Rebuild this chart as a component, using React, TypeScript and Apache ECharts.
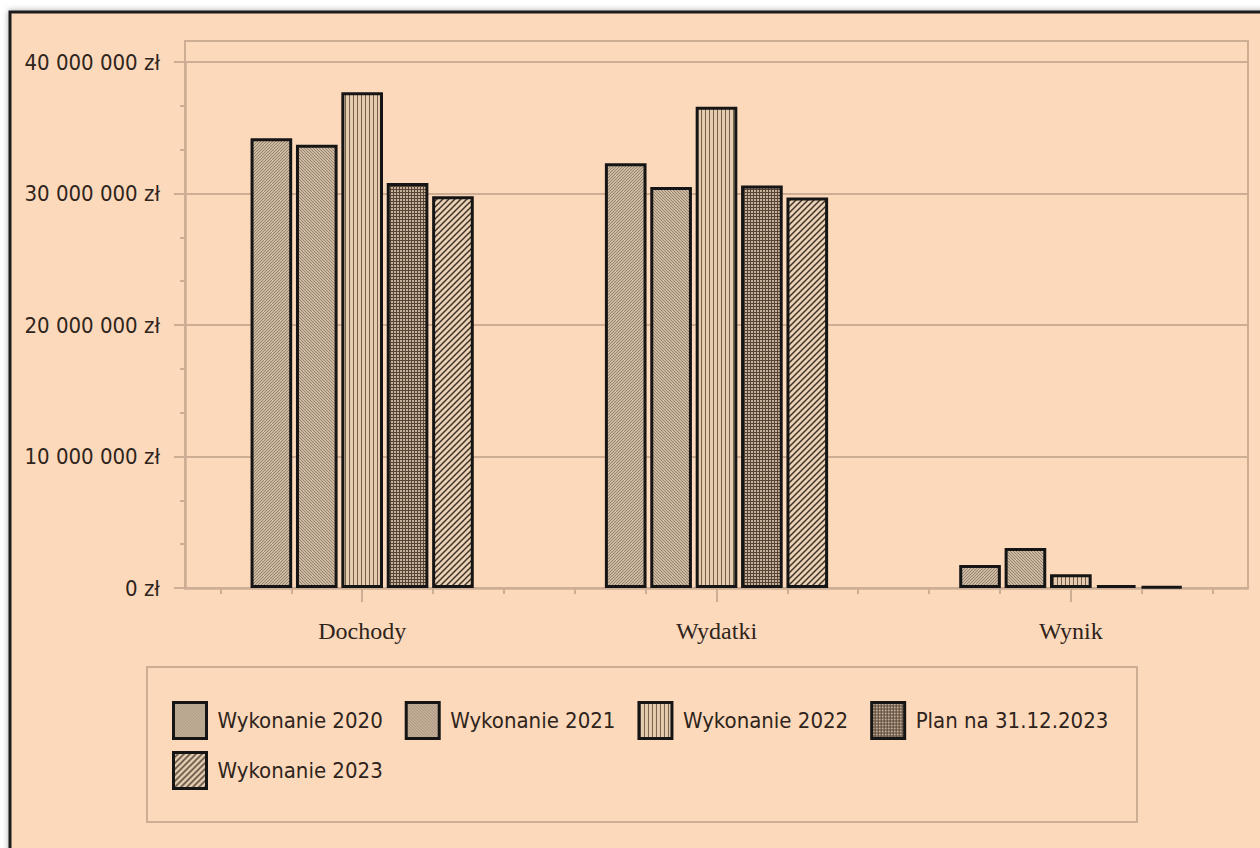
import React, { useEffect, useRef } from "react";
import * as echarts from "echarts";

const categories = ["Dochody", "Wydatki", "Wynik"];
const seriesNames = [
  "Wykonanie 2020",
  "Wykonanie 2021",
  "Wykonanie 2022",
  "Plan na 31.12.2023",
  "Wykonanie 2023",
];
const wykonanie2020 = [34200000, 32300000, 1750000];
const wykonanie2021 = [33700000, 30500000, 3050000];
const wykonanie2022 = [37700000, 36600000, 1050000];
const plan2023 = [30800000, 30600000, 220000];
const wykonanie2023 = [29800000, 29700000, 100000];
const yTickValues = [0, 10000000, 20000000, 30000000, 40000000];
const shortTickValues = [0.1, 0.3, 0.7, 0.9, 1.1, 1.3, 1.7, 1.9, 2.1, 2.3, 2.7, 2.9];
const longTickValues = [0.5, 1.5, 2.5];

const PEACH = "#FDD9BB";
const TAN = "#CDAE95";
const INK = "#2E241C";
const UI_FONT = "'DejaVu Sans Condensed', 'Liberation Sans Narrow', 'DejaVu Sans', sans-serif";

function makePattern(kind: string) {
  const c = document.createElement("canvas");
  let s = 3;
  if (kind === "vert") s = 4;
  if (kind === "wide") s = 6;
  c.width = s;
  c.height = s;
  const g = c.getContext("2d")!;
  const line = (x1: number, y1: number, x2: number, y2: number) => {
    g.beginPath();
    g.moveTo(x1, y1);
    g.lineTo(x2, y2);
    g.stroke();
  };
  if (kind === "fwd" || kind === "back") {
    g.fillStyle = "#CDB9A1";
    g.fillRect(0, 0, s, s);
    g.strokeStyle = "#917E6A";
    g.lineWidth = 0.9;
    if (kind === "fwd") {
      line(-1, s + 1, s + 1, -1);
      line(-1, 1, 1, -1);
      line(s - 1, s + 1, s + 1, s - 1);
    } else {
      line(-1, -1, s + 1, s + 1);
      line(s - 1, -1, s + 1, 1);
      line(-1, s - 1, 1, s + 1);
    }
  } else if (kind === "vert") {
    g.fillStyle = "#E6CCAF";
    g.fillRect(0, 0, s, s);
    g.fillStyle = "#75604D";
    g.fillRect(1, 0, 1, s);
  } else if (kind === "grid") {
    g.fillStyle = "#C7B098";
    g.fillRect(0, 0, s, s);
    g.fillStyle = "#564536";
    g.fillRect(0, 0, 1, s);
    g.fillRect(0, 0, s, 1);
  } else {
    g.fillStyle = "#EBD2B6";
    g.fillRect(0, 0, s, s);
    g.strokeStyle = "#3F3228";
    g.lineWidth = 1.5;
    line(-1, s + 1, s + 1, -1);
    line(-1, 1, 1, -1);
    line(s - 1, s + 1, s + 1, s - 1);
  }
  return { image: c, repeat: "repeat", imageWidth: s, imageHeight: s };
}

function fmtZl(v: number) {
  return String(Math.round(v)).replace(/\B(?=(\d{3})+(?!\d))/g, " ") + " zł";
}

export default function App() {
  const ref = useRef<HTMLDivElement>(null);
  useEffect(() => {
    if (!ref.current) return;
    const chart = echarts.init(ref.current, undefined, { renderer: "svg" });
    const patterns = [
      makePattern("fwd"),
      makePattern("back"),
      makePattern("vert"),
      makePattern("grid"),
      makePattern("wide"),
    ];
    const values = [wykonanie2020, wykonanie2021, wykonanie2022, plan2023, wykonanie2023];
    const legendCommon = {
      icon: "rect",
      itemWidth: 33,
      itemHeight: 36,
      itemGap: 22,
      padding: 0,
      orient: "horizontal",
      textStyle: {
        fontFamily: UI_FONT,
        fontSize: 22,
        color: INK,
        padding: [0, 0, 0, 6],
      },
      itemStyle: { borderColor: "#151515", borderWidth: 3 },
    };
    const option: any = {
      animation: false,
      backgroundColor: "transparent",
      grid: { left: 185, right: 12, top: 62, bottom: 260, containLabel: false },
      graphic: [
        {
          type: "rect",
          z: -100,
          silent: true,
          shape: { x: 10, y: 12, width: 1262, height: 846 },
          style: {
            fill: PEACH,
            stroke: "#1E1E1E",
            lineWidth: 3,
            shadowColor: "rgba(0,0,0,0.35)",
            shadowBlur: 6,
          },
        },
        {
          type: "rect",
          z: -50,
          silent: true,
          shape: { x: 185, y: 41, width: 1063, height: 547 },
          style: { fill: "none", stroke: TAN, lineWidth: 2 },
        },
        {
          type: "rect",
          z: -50,
          silent: true,
          shape: { x: 147, y: 667, width: 990, height: 155 },
          style: { fill: "none", stroke: TAN, lineWidth: 2 },
        },
      ],
      legend: [
        { ...legendCommon, data: seriesNames.slice(0, 4), left: 172, top: 701 },
        { ...legendCommon, data: seriesNames.slice(4), left: 172, top: 751 },
      ],
      xAxis: [
        {
          type: "category",
          data: categories,
          position: "bottom",
          axisLine: { show: true, lineStyle: { color: TAN, width: 2.5 } },
          axisTick: { show: false },
          axisLabel: {
            margin: 31,
            fontFamily: "'Liberation Serif', 'Times New Roman', serif",
            fontSize: 24,
            color: INK,
          },
          splitLine: { show: false },
        },
        {
          type: "value",
          min: 0,
          max: 3,
          position: "bottom",
          axisLine: { show: false },
          axisLabel: { show: false },
          splitLine: { show: false },
          axisTick: {
            show: true,
            length: 6,
            customValues: shortTickValues,
            lineStyle: { color: TAN, width: 2 },
          },
        },
        {
          type: "value",
          min: 0,
          max: 3,
          position: "bottom",
          axisLine: { show: false },
          axisLabel: { show: false },
          splitLine: { show: false },
          axisTick: {
            show: true,
            length: 14,
            customValues: longTickValues,
            lineStyle: { color: TAN, width: 2 },
          },
        },
      ],
      yAxis: {
        type: "value",
        min: yTickValues[0],
        max: yTickValues[yTickValues.length - 1],
        interval: yTickValues[1] - yTickValues[0],
        axisLine: { show: true, lineStyle: { color: TAN, width: 2.5 } },
        axisTick: { show: true, length: 11, lineStyle: { color: TAN, width: 2 } },
        minorTick: { show: true, splitNumber: 3, length: 5, lineStyle: { color: TAN, width: 2 } },
        splitLine: { show: true, lineStyle: { color: TAN, width: 2 } },
        axisLabel: {
          margin: 25,
          fontFamily: UI_FONT,
          fontSize: 22,
          color: INK,
          formatter: (v: number) => fmtZl(v),
        },
      },
      series: seriesNames.map((name, i) => ({
        name,
        type: "bar",
        xAxisIndex: 0,
        data: values[i],
        barGap: "9%",
        barCategoryGap: "37%",
        itemStyle: {
          color: patterns[i],
          borderColor: "#151515",
          borderWidth: 3,
        },
      })),
    };
    chart.setOption(option);
    return () => chart.dispose();
  }, []);
  return (
    <div
      ref={ref}
      style={{ position: "fixed", left: 0, top: 0, width: 1260, height: 848, background: "#ffffff" }}
    />
  );
}
